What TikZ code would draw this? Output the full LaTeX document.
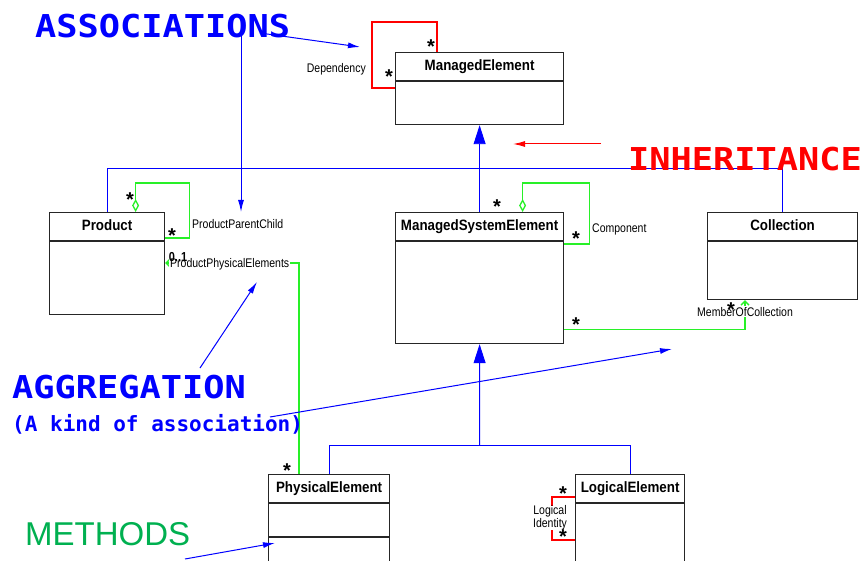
\documentclass[tikz,border=0pt]{standalone}
\usepackage{fontspec}
\setmainfont{Liberation Sans}
\newfontfamily\narrowfont{Liberation Sans}[FakeStretch=0.84]
\newfontfamily\headfont{Liberation Sans}[FakeStretch=0.89]
\newfontfamily\notefont{DejaVu Sans Mono}[FakeStretch=1.12]
\newfontfamily\notefontsmall{DejaVu Sans Mono}
\usetikzlibrary{arrows.meta, calc, positioning}

\definecolor{assocgreen}{RGB}{40,240,40}
\definecolor{methodgreen}{RGB}{0,176,80}

\begin{document}
\begin{tikzpicture}[x=1pt, y=-1pt,
	umlclass/.style = {draw=black!85, line width=1.2pt, anchor=north west, inner sep=0pt},
	compart/.style = {draw=black!85, line width=1.2pt},
	classname/.style = {font=\headfont\bfseries\fontsize{15}{15}\selectfont, text height=11pt, text depth=3pt, inner sep=0pt},
	assoclabel/.style = {font=\narrowfont\fontsize{12.5}{13}\selectfont, inner sep=1pt},
	mult/.style = {font=\bfseries\fontsize{20}{20}\selectfont, inner sep=0pt},
	note/.style = {font=\notefont\bfseries\fontsize{31.5}{32}\selectfont, anchor=base west, inner sep=0pt},
	notesmall/.style = {font=\notefontsmall\bfseries\fontsize{21}{22}\selectfont, anchor=base west, inner sep=0pt},
	tree/.style = {draw=blue, line width=0.9pt},
	gen/.style = {tree, -{Triangle[length=19pt, width=12pt]}},
	aggr/.style = {draw=assocgreen, line width=1.3pt},
	dep/.style = {draw=red, line width=1.1pt},
	notearrow/.style = {draw=blue, line width=1pt, -{Latex[length=12pt, width=6pt]}}]
	\useasboundingbox (0,0) rectangle (866,561);
	\clip (0,0) rectangle (866,561);

	% classes
	\node[umlclass, minimum width=168, minimum height=72] (me) at (395,52) {};
	\node[umlclass, minimum width=115, minimum height=102] (prod) at (49,212) {};
	\node[umlclass, minimum width=168, minimum height=131] (mse) at (395,212) {};
	\node[umlclass, minimum width=150, minimum height=87] (coll) at (707,212) {};
	\node[umlclass, minimum width=121, minimum height=120] (phys) at (268,474) {};
	\node[umlclass, minimum width=109, minimum height=120] (logi) at (575,474) {};

	\foreach \c in {me, prod, mse, coll, phys, logi}
		\draw[compart] ($(\c.north west)+(0,29)$) -- ($(\c.north east)+(0,29)$);
	\draw[compart] ($(phys.north west)+(0,63)$) -- ($(phys.north east)+(0,63)$);

	\node[classname] (me-name) at ($(me.north)+(0,14.5)$) {ManagedElement};
	\node[classname] (prod-name) at ($(prod.north)+(0,14.5)$) {Product};
	\node[classname] (mse-name) at ($(mse.north)+(0,14.5)$) {ManagedSystemElement};
	\node[classname] (coll-name) at ($(coll.north)+(0,14.5)$) {Collection};
	\node[classname] (phys-name) at ($(phys.north)+(0,14.5)$) {PhysicalElement};
	\node[classname] (logi-name) at ($(logi.north)+(0,14.5)$) {LogicalElement};

	% inheritance
	\draw[tree] (prod.north) -- ++(0,-44) -| (coll.north);
	\draw[gen] (mse.north) -- (me.south);
	\draw[tree] (phys.north) -- ++(0,-29) -| (logi.north);
	\draw[gen] ($(phys.north)!0.5!(logi.north)+(0,-29)$) -- (mse.south);

	% associations and aggregations
	\draw[dep] ($(me.north west)+(0,36)$) -- ++(-23,0) -- ++(0,-66) -| ($(me.north west)+(42,0)$);
	\draw[aggr, -{Diamond[open, length=13pt, width=7pt]}] ($(prod.north east)+(0,26)$) -- ++(24,0) -- ++(0,-55) -| ($(prod.north)+(28.5,0)$);
	\draw[aggr, -{Diamond[open, length=13pt, width=7pt]}] ($(mse.north east)+(0,32)$) -- ++(25,0) -- ++(0,-61) -| ($(mse.north)+(43,0)$);
	\draw[aggr, -{Straight Barb[length=4pt, width=8pt]}] ($(phys.north west)+(31,0)$) |- ($(prod.north east)+(0,51)$);
	\draw[aggr, -{Straight Barb[length=4pt, width=8pt]}] ($(mse.south east)+(0,-15)$) -| ($(coll.south west)+(38,0)$);
	\draw[dep] ($(logi.north west)+(0,23)$) -- ++(-23,0) -- ++(0,43) -- ++(23,0);

	\node[assoclabel, anchor=base east] (dep-label) at (367,73) {Dependency};
	\node[assoclabel, anchor=base west] (ppc-label) at (191,228) {ProductParentChild};
	\node[assoclabel, anchor=base west, fill=white] (ppe-label) at (169,267) {ProductPhysicalElements};
	\node[assoclabel, anchor=base west] (comp-label) at (591,233) {Component};
	\node[assoclabel, anchor=base west, fill=white] (moc-label) at (696,316) {MemberOfCollection};
	\node[assoclabel, fill=white, align=center, inner sep=0pt] (li-label) at (550,518) {Logical\\Identity};

	% multiplicities
	\foreach \p [count=\i] in {(431,47), (389,77), (130,200), (172,236), (497,207), (576,239), (576,325), (731,310), (287,471), (563,494), (563,537)}
		\node[mult] (m\i) at \p {*};
	\node[assoclabel, font=\narrowfont\bfseries\fontsize{13}{13}\selectfont, inner sep=0pt] (m0) at (178,257) {0..1};

	% notes
	\node[note, text=blue] (assoc) at (35,38) {ASSOCIATIONS};
	\node[note, text=red] (inh) at (628,171) {INHERITANCE};
	\node[note, text=blue] (aggrnote) at (12,398) {AGGREGATION};
	\node[notesmall, text=blue] (aggrkind) at (12,431) {(A kind of association)};
	\node[anchor=base west, inner sep=0pt, text=methodgreen, font=\fontsize{33}{33}\selectfont] (meth) at (25,545) {METHODS};

	\coordinate (assoc-a) at (241,27);
	\coordinate (assoc-b) at (260,33);
	\coordinate (assoc-to1) at (241,212);
	\coordinate (assoc-to2) at (360,47);
	\coordinate (inh-from) at (601,144);
	\coordinate (inh-to) at (513,144);
	\coordinate (aggr-a) at (200,368);
	\coordinate (aggr-to1) at (257,282);
	\coordinate (aggr-b) at (270,417);
	\coordinate (aggr-to2) at (672,349);
	\coordinate (meth-a) at (185,559);
	\coordinate (meth-to) at (275,543);

	\draw[notearrow] (assoc-a) -- (assoc-to1);
	\draw[notearrow] (assoc-b) -- (assoc-to2);
	\draw[notearrow, draw=red] (inh-from) -- (inh-to);
	\draw[notearrow] (aggr-a) -- (aggr-to1);
	\draw[notearrow] (aggr-b) -- (aggr-to2);
	\draw[notearrow] (meth-a) -- (meth-to);
\end{tikzpicture}
\end{document}
